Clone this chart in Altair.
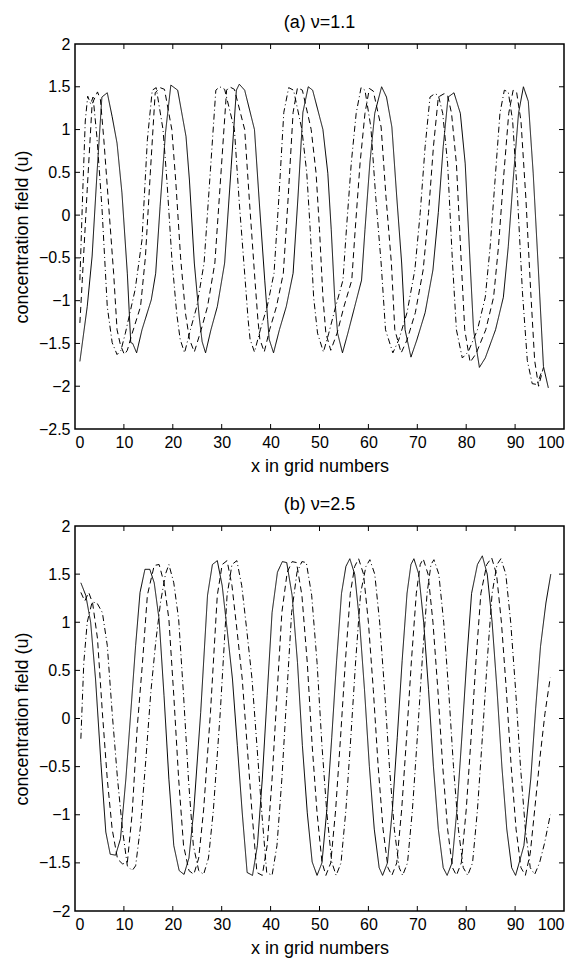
import altair as alt
import pandas as pd

X_TICKS = [0, 10, 20, 30, 40, 50, 60, 70, 80, 90, 100]
YA_TICKS = [-2.5, -2, -1.5, -1, -0.5, 0, 0.5, 1, 1.5, 2]
YB_TICKS = [-2, -1.5, -1, -0.5, 0, 0.5, 1, 1.5, 2]

# ---------- panel (a) nu = 1.1 ----------
A_SOLID = [(1, -1.71), (2.5, -1.07), (3.5, -0.48), (4.5, 0.49), (5.5, 1.38), (6.6, 1.43), (7.6, 1.15),
           (8.6, 0.84), (9.6, 0.26), (10.7, -0.68), (11.4, -1.49), (11.8, -1.5), (12.6, -1.61), (13.7, -1.34),
           (15.6, -0.99), (16.5, -0.68), (17.4, 0.1), (18.5, 0.96), (19.6, 1.52), (21, 1.46), (22.7, 0.92),
           (23.4, 0.41), (24.4, -0.56), (25.4, -1.19), (26, -1.48), (26.7, -1.61), (27.8, -1.34), (29.1, -1.07),
           (30.6, -0.56), (31.9, 0.53), (33, 1.46), (33.6, 1.53), (34.7, 1.46), (36.7, 1.0), (37.7, 0.14),
           (38.8, -0.76), (39.4, -1.22), (39.7, -1.45), (40.6, -1.61), (41.8, -1.34), (43.2, -1.07), (44.6, -0.68),
           (45.6, 0.21), (46.6, 1.2), (47.7, 1.5), (48.6, 1.46), (50.7, 1.0), (51.7, 0.49), (52.4, -0.17),
           (53.1, -0.96), (53.7, -1.38), (54.7, -1.61), (55.8, -1.38), (57.2, -1.07), (58.6, -0.76), (59.3, -0.17),
           (60.3, 0.61), (61.3, 1.19), (62.7, 1.5), (63.7, 1.38), (64.8, 1.03), (65.8, 0.21), (66.8, -0.56),
           (67.5, -1.34), (68.7, -1.66), (69.9, -1.46), (71.6, -1.14), (73.2, -0.64), (74.3, 0.03), (75.3, 0.8),
           (76.3, 1.38), (77.5, 1.43), (78.8, 1.19), (79.8, 0.6), (80.8, -0.56), (81.5, -1.34), (82.7, -1.78),
           (83.9, -1.67), (86, -1.34), (87.6, -0.96), (88.6, -0.37), (89.6, 0.41), (90.7, 1.19), (91.7, 1.5),
           (92.7, 1.33), (93.7, 0.49), (94.8, -0.68), (95.8, -1.77), (96.8, -2.02)]

A_DASHED = [(1, -1.26), (1.5, -0.75), (2.5, 0.3), (3.5, 1.3), (4.6, 1.44), (5.2, 1.35), (5.9, 0.88), (6.9, 0.1),
            (7.9, -0.68), (8.6, -1.34), (9.3, -1.52), (10.1, -1.63), (10.7, -1.58), (11.7, -1.38), (13.4, -1.07),
            (14.4, -0.49), (15.4, 0.49), (16.4, 1.43), (17.4, 1.49), (18.3, 1.47), (19.8, 1.0), (20.6, 0.4),
            (21.6, -0.5), (22.6, -1.15), (23.4, -1.45), (24.4, -1.6), (25.8, -1.34), (27.1, -1.07), (28.6, -0.56),
            (29.9, 0.53), (31, 1.46), (31.6, 1.5), (32.6, 1.47), (34.7, 1.0), (35.7, 0.14), (36.8, -0.76),
            (37.4, -1.22), (37.8, -1.45), (38.7, -1.6), (39.8, -1.34), (41.2, -1.07), (42.6, -0.68), (43.6, 0.21),
            (44.6, 1.2), (45.5, 1.49), (46.5, 1.46), (48.3, 1.0), (49.3, 0.49), (50, -0.17), (50.7, -0.96),
            (51.3, -1.38), (52.3, -1.58), (53.6, -1.38), (55, -1.07), (56.6, -0.76), (57.3, -0.17), (58.3, 0.61),
            (59.3, 1.19), (60.2, 1.48), (61, 1.45), (62.6, 1.03), (63.6, 0.21), (64.7, -0.56), (65.4, -1.34),
            (66.7, -1.61), (67.9, -1.46), (69.6, -1.14), (71.2, -0.64), (72.3, 0.03), (73.3, 0.8), (74.3, 1.38),
            (75.5, 1.42), (76.2, 1.4), (77, 1.19), (78, 0.6), (79, -0.56), (79.7, -1.34), (80.8, -1.72),
            (82, -1.62), (84, -1.34), (85.6, -0.96), (86.6, -0.37), (87.6, 0.41), (88.7, 1.19), (89.6, 1.46),
            (90.3, 1.44), (91.2, 1.1), (92.2, 0.2), (93.2, -0.9), (94, -1.7), (94.8, -2.0), (95.8, -1.78)]

A_DASHDOT = [(1, -0.76), (1.6, 0.3), (2.1, 1.1), (2.6, 1.39), (3.2, 1.3), (3.7, 1.38), (4.5, 0.9), (5.5, 0.1),
             (6.6, -1.07), (7.6, -1.49), (8.6, -1.63), (9.4, -1.58), (10.3, -1.38), (12.3, -0.87), (13.7, -0.29),
             (14.8, 0.88), (15.8, 1.46), (16.6, 1.49), (18, 1.0), (18.8, 0.4), (19.8, -0.5), (20.8, -1.15),
             (21.5, -1.45), (22.4, -1.61), (23.6, -1.34), (24.9, -1.07), (26.4, -0.56), (27.7, 0.53), (28.8, 1.46),
             (29.6, 1.5), (30.6, 1.47), (32.6, 1.0), (33.6, 0.14), (34.8, -0.76), (35.4, -1.22), (35.8, -1.45),
             (36.7, -1.6), (37.9, -1.34), (39.3, -1.07), (40.7, -0.68), (41.7, 0.21), (42.7, 1.2), (43.7, 1.49),
             (44.7, 1.46), (46.4, 1.0), (47.4, 0.49), (48.1, -0.17), (48.8, -0.96), (49.6, -1.38), (50.8, -1.6),
             (51.9, -1.38), (53.3, -1.07), (54.8, -0.76), (55.5, -0.17), (56.5, 0.61), (57.5, 1.19), (58.5, 1.49),
             (59.3, 1.46), (60.5, 1.03), (61.5, 0.21), (62.6, -0.56), (63.5, -1.34), (65, -1.61), (66.2, -1.46),
             (67.9, -1.14), (69.5, -0.64), (70.6, 0.03), (71.6, 0.8), (72.6, 1.38), (73.6, 1.42), (74.3, 1.4),
             (75.2, 1.19), (76.2, 0.6), (77.2, -0.56), (78, -1.34), (79.2, -1.67), (80.4, -1.6), (82.3, -1.34),
             (83.9, -0.96), (84.9, -0.37), (85.9, 0.41), (86.9, 1.19), (87.8, 1.46), (88.6, 1.44), (89.5, 1.1),
             (90.5, 0.2), (91.5, -0.9), (92.5, -1.7), (93.5, -1.97), (94.5, -1.98), (95.3, -1.85)]

# ---------- panel (b) nu = 2.5 ----------
B_SOLID = [(1.2, 1.41), (2.2, 1.28), (3.2, 1.0), (4.2, 0.41), (5.3, -0.46), (6.3, -1.18), (7.2, -1.41), (8.3, -1.42),
           (9.3, -1.25), (10.4, -0.63), (11.4, 0.06), (12.4, 0.76), (13.3, 1.31), (14.3, 1.55), (15.3, 1.55),
           (16.2, 1.41), (17.2, 1.03), (18.2, 0.24), (19.2, -0.63), (20.2, -1.32), (21.3, -1.58), (22.3, -1.62),
           (23.3, -1.45), (24.3, -0.95), (25.7, 0.06), (27.1, 1.28), (28.1, 1.6), (29.1, 1.64), (30.1, 1.38),
           (31.1, 0.93), (32.2, 0.41), (33.2, -0.28), (34.2, -0.98), (35.2, -1.6), (36.3, -1.63), (37.3, -1.32),
           (38.3, -0.63), (39.3, 0.24), (40.3, 1.1), (41.4, 1.52), (42.4, 1.63), (43.3, 1.62), (44.4, 1.28),
           (45.5, 0.58), (46.5, -0.28), (47.5, -0.98), (48.5, -1.49), (49.5, -1.63), (50.5, -1.5), (51.5, -0.95),
           (52.5, -0.2), (53.5, 0.6), (54.5, 1.3), (55.4, 1.58), (56.2, 1.66), (57.2, 1.5), (58.2, 1.0), (59.2, 0.3),
           (60.2, -0.5), (61.2, -1.15), (62.2, -1.55), (62.9, -1.63), (63.9, -1.5), (64.9, -0.95), (65.9, -0.2),
           (66.9, 0.6), (67.9, 1.3), (68.7, 1.6), (69.3, 1.66), (70.3, 1.5), (71.3, 1.0), (72.3, 0.3), (73.3, -0.5),
           (74.3, -1.15), (75.3, -1.55), (76.1, -1.63), (77.1, -1.5), (78.1, -0.95), (79.1, -0.2), (80.1, 0.6),
           (81.1, 1.3), (82.3, 1.6), (83.3, 1.69), (84.3, 1.5), (85.3, 1.0), (86.3, 0.3), (87.3, -0.5), (88.3, -1.15),
           (89.3, -1.55), (90.1, -1.63), (91.1, -1.45), (91.8, -1.32), (93.2, -0.63), (94.2, 0.1), (95.2, 0.75),
           (96.3, 1.2), (97.3, 1.5)]

B_DASHED = [(1.2, 1.31), (2.0, 1.22), (2.8, 1.31), (3.6, 1.2), (4.6, 0.83), (5.6, 0.06), (6.6, -0.63), (7.6, -1.15),
            (8.7, -1.46), (9.7, -1.51), (10.7, -1.5), (11.7, -0.98), (12.7, -0.11), (13.8, 0.58), (14.8, 1.28),
            (16.2, 1.59), (17.2, 1.6), (18.2, 1.41), (19.2, 1.03), (20.2, 0.24), (21.2, -0.63), (22.2, -1.32),
            (23.3, -1.58), (24.3, -1.62), (25.3, -1.45), (26.3, -0.95), (27.7, 0.06), (29.1, 1.28), (30.1, 1.6),
            (31.1, 1.64), (32.1, 1.38), (33.1, 0.93), (34.2, 0.41), (35.2, -0.28), (36.2, -0.98), (37.2, -1.6),
            (38.3, -1.63), (39.3, -1.32), (40.3, -0.63), (41.3, 0.24), (42.3, 1.1), (43.4, 1.52), (44.4, 1.63),
            (45.3, 1.62), (46.4, 1.28), (47.5, 0.58), (48.5, -0.28), (49.5, -0.98), (50.5, -1.49), (51.3, -1.63),
            (52.3, -1.5), (53.3, -0.95), (54.3, -0.2), (55.3, 0.6), (56.3, 1.3), (57.2, 1.58), (58, 1.66), (59, 1.5),
            (60, 1.0), (61, 0.3), (62, -0.5), (63, -1.15), (64, -1.55), (64.8, -1.63), (65.8, -1.5), (66.8, -0.95),
            (67.8, -0.2), (68.8, 0.6), (69.8, 1.3), (70.6, 1.6), (71.2, 1.66), (72.2, 1.5), (73.2, 1.0), (74.2, 0.3),
            (75.2, -0.5), (76.2, -1.15), (77.2, -1.55), (78, -1.63), (79, -1.5), (80, -0.95), (81, -0.2), (82, 0.6),
            (83, 1.3), (84.2, 1.6), (85.2, 1.67), (86.2, 1.5), (87.2, 1.0), (88.2, 0.3), (89.2, -0.5), (90.2, -1.15),
            (91.2, -1.55), (92.1, -1.63), (93.1, -1.4), (94.1, -0.9), (95.1, -0.4), (96.1, 0.05), (97.2, 0.43)]

B_DASHDOT = [(1.2, -0.21), (1.8, 0.58), (2.5, 1.0), (3.5, 1.21), (4.5, 1.2), (5.6, 1.1), (6.6, 0.76), (7.6, 0.06),
             (8.7, -0.63), (9.7, -1.15), (10.7, -1.53), (11.7, -1.58), (12.4, -1.53), (13.4, -1.12), (14.5, -0.42),
             (15.5, 0.27), (16.5, 0.79), (17.5, 1.21), (18.5, 1.5), (19.2, 1.6), (20.2, 1.41), (21.2, 1.03),
             (22.2, 0.24), (23.2, -0.63), (24.2, -1.32), (25.3, -1.58), (26.3, -1.62), (27.3, -1.45), (28.3, -0.95),
             (29.7, 0.06), (31.1, 1.28), (32.1, 1.6), (33.1, 1.64), (34.1, 1.38), (35.1, 0.93), (36.2, 0.41),
             (37.2, -0.28), (38.2, -0.98), (39.2, -1.6), (40.3, -1.63), (41.3, -1.32), (42.3, -0.63), (43.3, 0.24),
             (44.3, 1.1), (45.4, 1.52), (46.4, 1.63), (47.3, 1.62), (48.4, 1.28), (49.5, 0.58), (50.5, -0.28),
             (51.5, -0.98), (52.5, -1.49), (53.4, -1.63), (54.4, -1.5), (55.4, -0.95), (56.4, -0.2), (57.4, 0.6),
             (58.4, 1.3), (59.5, 1.58), (60.3, 1.65), (61.3, 1.5), (62.3, 1.0), (63.3, 0.3), (64.3, -0.5),
             (65.3, -1.15), (66.3, -1.55), (67, -1.63), (68, -1.5), (69, -0.95), (70, -0.2), (71, 0.6), (72, 1.3),
             (72.8, 1.6), (73.4, 1.65), (74.4, 1.5), (75.4, 1.0), (76.4, 0.3), (77.4, -0.5), (78.4, -1.15),
             (79.4, -1.55), (80.3, -1.63), (81.3, -1.5), (82.3, -0.95), (83.3, -0.2), (84.3, 0.6), (85.3, 1.3),
             (86.3, 1.6), (87.1, 1.66), (88.1, 1.5), (89.1, 1.0), (90.1, 0.3), (91.1, -0.5), (92.1, -1.15),
             (93.1, -1.55), (94, -1.62), (95, -1.5), (96, -1.3), (97.2, -1.0)]

W, H = 489, 385
FONT = "Liberation Sans"
MINUS = "replace(datum.label, /[-\u2212]/, '\u2212')"


def panel(title, series, ydom, yticks):
    rows = []
    for name, pts in series:
        for x, y in pts:
            rows.append({"x": x, "y": y, "s": name})
    df = pd.DataFrame(rows)
    xenc = alt.X("x:Q", scale=alt.Scale(domain=[0, 100], nice=False, zero=False),
                 axis=alt.Axis(values=X_TICKS, title="x in grid numbers", format="d",
                               labelPadding=5, titlePadding=7))
    yenc = alt.Y("y:Q", scale=alt.Scale(domain=ydom, nice=False, zero=False),
                 axis=alt.Axis(values=yticks, title="concentration field (u)", format="~g",
                               labelExpr=MINUS, labelPadding=5, titlePadding=7))
    lines = alt.Chart(df).mark_line(color="black", strokeWidth=1).encode(
        x=xenc, y=yenc,
        strokeDash=alt.StrokeDash("s:N", scale=alt.Scale(domain=["solid", "dashed", "dashdot"],
                                                         range=[[1, 0], [6, 4], [6, 3, 1, 3]]), legend=None),
        detail="s:N")
    xt = pd.DataFrame({"x": X_TICKS[1:-1]})
    yt = pd.DataFrame({"y": yticks[1:-1]})
    rule = dict(color="black", strokeWidth=1)
    bottom = alt.Chart(xt).mark_rule(**rule).encode(x=xenc, y=alt.value(H), y2=alt.value(H - 5))
    top = alt.Chart(xt).mark_rule(**rule).encode(x=xenc, y=alt.value(0), y2=alt.value(5))
    left = alt.Chart(yt).mark_rule(**rule).encode(y=yenc, x=alt.value(0), x2=alt.value(5))
    right = alt.Chart(yt).mark_rule(**rule).encode(y=yenc, x=alt.value(W - 5), x2=alt.value(W))
    return alt.layer(lines, bottom, top, left, right).properties(
        width=W, height=H,
        title=alt.TitleParams(title, fontSize=18, fontWeight="normal", font=FONT, color="black", offset=4))


pa = panel("(a) \u03bd=1.1", [("solid", A_SOLID), ("dashed", A_DASHED), ("dashdot", A_DASHDOT)],
           [-2.5, 2], YA_TICKS)
pb = panel("(b) \u03bd=2.5", [("solid", B_SOLID), ("dashed", B_DASHED), ("dashdot", B_DASHDOT)],
           [-2, 2], YB_TICKS)

chart = alt.vconcat(pa, pb, spacing=19).configure_view(
    stroke="black", strokeWidth=1.5
).configure_axis(
    domain=False, ticks=False, grid=False, labelFont=FONT, titleFont=FONT,
    labelFontSize=16, titleFontSize=18, labelColor="black", titleColor="black",
    titleFontWeight="normal"
).properties(padding={"left": 4, "top": 5, "right": 5, "bottom": 0})

chart.save("out.html", embed_options={"renderer": "svg", "actions": False})
